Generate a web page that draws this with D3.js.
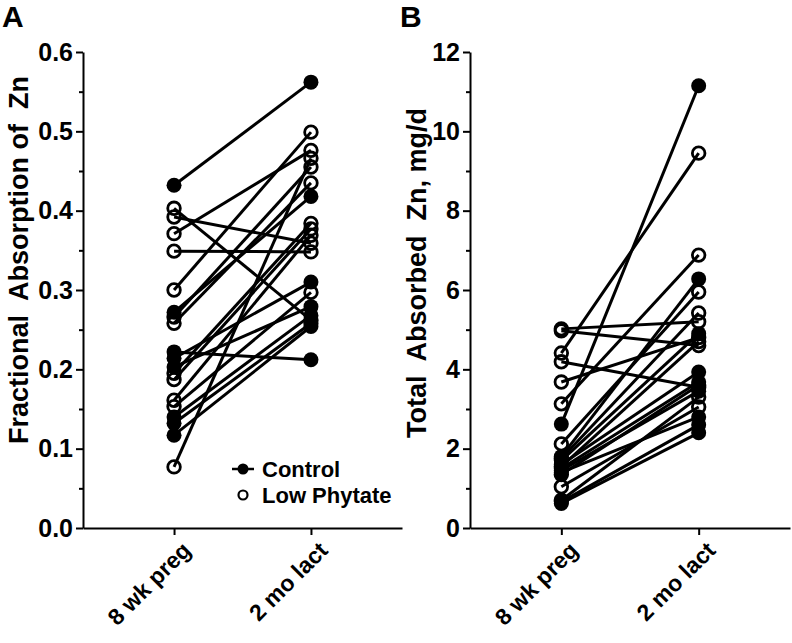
<!DOCTYPE html>
<html>
<head>
<meta charset="utf-8">
<script src="https://cdn.jsdelivr.net/npm/d3@7"></script>
<style>
  body { margin: 0; background: #fff; }
  text { font-family: "Liberation Sans", Arial, sans-serif; font-weight: bold; fill: #000; white-space: pre; }
</style>
</head>
<body>
<svg id="chart" width="792" height="643"></svg>
<script>
const times = ["8 wk preg", "2 mo lact"];

// Panel A: fractional absorption of Zn (pairs, preg -> lact)
const ctrlFracPreg = [0.432, 0.272, 0.222, 0.214, 0.203, 0.140, 0.132, 0.117];
const ctrlFracLact = [0.562, 0.418, 0.212, 0.310, 0.279, 0.268, 0.258, 0.254];
const lowFracPreg = [0.403, 0.392, 0.371, 0.349, 0.300, 0.266, 0.258, 0.195, 0.187, 0.161, 0.153, 0.077];
const lowFracLact = [0.262, 0.359, 0.476, 0.348, 0.499, 0.455, 0.435, 0.384, 0.377, 0.369, 0.297, 0.466];

// Panel B: total absorbed Zn, mg/d
const ctrlTotPreg = [2.62, 1.80, 1.70, 1.60, 1.50, 1.45, 1.40, 0.66, 0.62];
const ctrlTotLact = [11.15, 6.28, 4.90, 3.93, 3.68, 3.45, 2.80, 2.60, 2.40];
const lowTotPreg = [5.02, 4.97, 4.41, 4.19, 3.68, 3.13, 2.12, 1.75, 1.55, 1.35, 1.04, 0.70];
const lowTotLact = [5.20, 4.60, 9.45, 3.55, 4.80, 6.88, 5.95, 5.42, 4.70, 3.60, 3.05, 3.30];

const fracTicks = [0, 0.1, 0.2, 0.3, 0.4, 0.5, 0.6];
const totTicks = [0, 2, 4, 6, 8, 10, 12];

const svg = d3.select("#chart");
const plotTop = 52, plotBottom = 528;

function panel(opts) {
  const x = d3.scalePoint().domain(times).range([opts.left, opts.right]).padding(0.665);
  const y = d3.scaleLinear().domain([0, opts.max]).range([plotBottom, plotTop]);

  const g = svg.append("g");

  // minor ticks
  g.append("g")
      .attr("transform", `translate(${opts.left},0)`)
      .call(d3.axisLeft(y).tickValues(d3.range(opts.minor, opts.max, opts.minor * 2)).tickSize(4).tickFormat(""))
      .call(a => a.select(".domain").remove())
      .selectAll("line").attr("stroke-width", 2);

  const ya = g.append("g")
      .attr("transform", `translate(${opts.left},0)`)
      .call(d3.axisLeft(y).tickValues(opts.ticks).tickSize(7).tickSizeOuter(0).tickFormat(opts.fmt));
  ya.select(".domain").attr("stroke-width", 2);
  ya.selectAll("line").attr("stroke-width", 2);
  ya.selectAll("text").style("font-size", "25px").style("font-family", null);

  const xa = g.append("g")
      .attr("transform", `translate(0,${plotBottom})`)
      .call(d3.axisBottom(x).tickSize(7).tickSizeOuter(0));
  xa.select(".domain").attr("stroke-width", 2);
  xa.selectAll("line").attr("stroke-width", 2);
  xa.selectAll("text")
      .style("font-size", "23px").style("font-family", null)
      .attr("text-anchor", "end")
      .attr("x", 0).attr("y", 0).attr("dy", "0.35em")
      .attr("transform", "translate(12,18) rotate(-45)");

  g.append("text")
      .attr("transform", `translate(${opts.titleX},${opts.titleY}) rotate(-90)`)
      .attr("text-anchor", "middle")
      .style("font-size", "27px")
      .text(opts.title);

  g.append("text")
      .attr("x", opts.letterX).attr("y", 27)
      .style("font-size", "30px")
      .text(opts.letter);

  const groups = [
    {pre: opts.lowPre, post: opts.lowPost, filled: false},
    {pre: opts.ctrlPre, post: opts.ctrlPost, filled: true}
  ];

  groups.forEach(gr => {
    const pairs = gr.pre.map((v, i) => [v, gr.post[i]]);
    g.append("g").selectAll("line")
      .data(pairs)
      .join("line")
        .attr("x1", x(times[0])).attr("x2", x(times[1]))
        .attr("y1", d => y(d[0])).attr("y2", d => y(d[1]))
        .attr("stroke", "#000").attr("stroke-width", 3);
  });

  groups.forEach(gr => {
    const pts = [];
    gr.pre.forEach(v => pts.push([times[0], v]));
    gr.post.forEach(v => pts.push([times[1], v]));
    g.append("g").selectAll("circle")
      .data(pts)
      .join("circle")
        .attr("cx", d => x(d[0])).attr("cy", d => y(d[1]))
        .attr("r", gr.filled ? 7.5 : 6.3)
        .attr("fill", gr.filled ? "#000" : "none")
        .attr("stroke", "#000").attr("stroke-width", gr.filled ? 0 : 2.8);
  });
}

panel({
  left: 83, right: 402, max: 0.6, ticks: fracTicks, minor: 0.05, fmt: d3.format(".1f"),
  title: "Fractional  Absorption of  Zn", titleX: 28, titleY: 260, letter: "A", letterX: 2,
  ctrlPre: ctrlFracPreg, ctrlPost: ctrlFracLact, lowPre: lowFracPreg, lowPost: lowFracLact
});

panel({
  left: 470, right: 790, max: 12, ticks: totTicks, minor: 1, fmt: d3.format("d"),
  title: "Total  Absorbed  Zn, mg/d", titleX: 426, titleY: 273, letter: "B", letterX: 400,
  ctrlPre: ctrlTotPreg, ctrlPost: ctrlTotLact, lowPre: lowTotPreg, lowPost: lowTotLact
});

// legend
const legend = svg.append("g");
const legendItems = [{label: "Control", filled: true, y: 469}, {label: "Low Phytate", filled: false, y: 495}];
legendItems.forEach(d => {
  if (d.filled) {
    legend.append("line").attr("x1", 232).attr("x2", 254).attr("y1", d.y).attr("y2", d.y)
      .attr("stroke", "#000").attr("stroke-width", 2.5);
  }
  legend.append("circle").attr("cx", 243).attr("cy", d.y).attr("r", d.filled ? 5.5 : 4.5)
    .attr("fill", d.filled ? "#000" : "none").attr("stroke", "#000").attr("stroke-width", d.filled ? 0 : 2.2);
  legend.append("text").attr("x", 262).attr("y", d.y + 8).style("font-size", "22px").text(d.label);
});
</script>
</body>
</html>
